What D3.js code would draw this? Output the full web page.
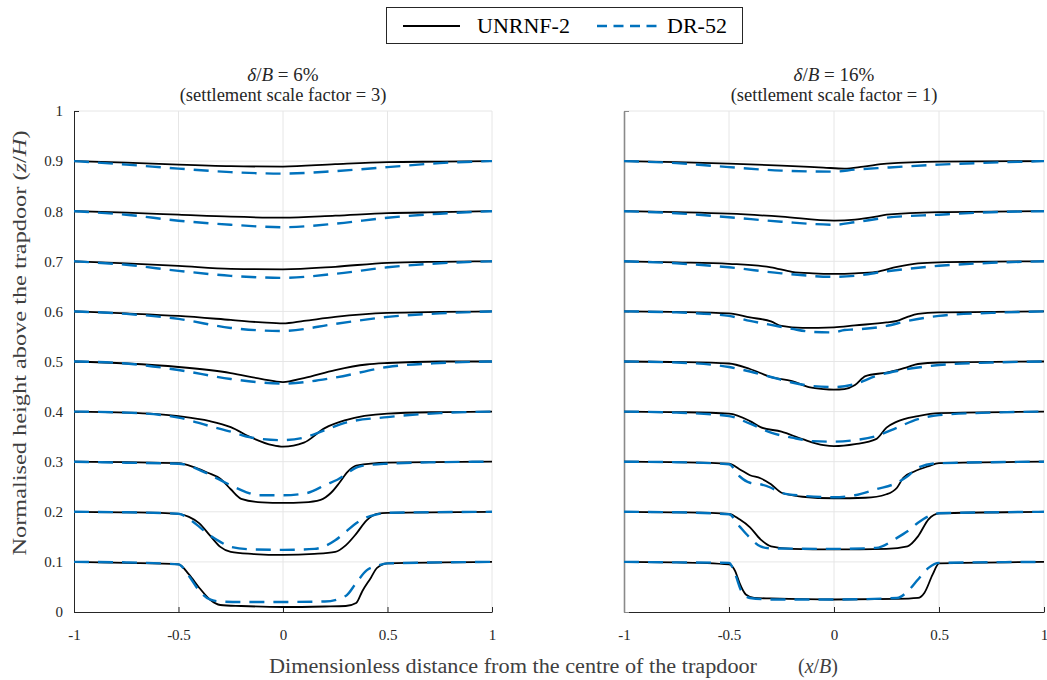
<!DOCTYPE html>
<html>
<head>
<meta charset="utf-8">
<script src="https://cdn.jsdelivr.net/npm/d3@7"></script>
<style>
  html, body { margin: 0; padding: 0; background: #ffffff; }
  svg { display: block; }
  svg text { font-family: "Liberation Serif", "Times New Roman", "DejaVu Serif", serif; fill: #262626; }
</style>
</head>
<body>
<svg id="chart" width="1047" height="680" font-family="Liberation Serif"></svg>
<script>
// ---------------- DATA ----------------
const seriesNames = ["UNRNF-2", "DR-52"];
const levels = [0.1, 0.2, 0.3, 0.4, 0.5, 0.6, 0.7, 0.8, 0.9];
const xTicks = [-1, -0.5, 0, 0.5, 1];
const xTickLabels = ["-1", "-0.5", "0", "0.5", "1"];
const yTicks = [0, 0.1, 0.2, 0.3, 0.4, 0.5, 0.6, 0.7, 0.8, 0.9, 1];
const yTickLabels = ["0", "0.1", "0.2", "0.3", "0.4", "0.5", "0.6", "0.7", "0.8", "0.9", "1"];
const panelTitles = ["6%", "16%"];
const panelScaleFactors = ["3", "1"];

// Each curve: [x/B, plotted settlement (scaled, in z/H units)], one curve per level (0.1 .. 0.9)
const leftUNRNF = [
  [[-1,0],[-0.75,0.002],[-0.5,0.005],[-0.45,0.025],[-0.4,0.052],[-0.35,0.075],[-0.3,0.086],[-0.2,0.088],[0,0.090],[0.2,0.089],[0.3,0.088],[0.35,0.082],[0.38,0.058],[0.42,0.032],[0.45,0.012],[0.5,0.003],[1,0]],
  [[-1,0],[-0.75,0.001],[-0.5,0.004],[-0.45,0.010],[-0.4,0.023],[-0.35,0.047],[-0.3,0.070],[-0.25,0.080],[-0.15,0.084],[0,0.086],[0.15,0.084],[0.25,0.080],[0.3,0.067],[0.35,0.044],[0.4,0.017],[0.45,0.004],[0.5,0.002],[1,0]],
  [[-1,0],[-0.75,0.001],[-0.5,0.003],[-0.42,0.012],[-0.36,0.022],[-0.3,0.034],[-0.25,0.055],[-0.2,0.074],[-0.1,0.081],[0,0.082],[0.1,0.081],[0.18,0.076],[0.23,0.062],[0.27,0.042],[0.31,0.020],[0.35,0.008],[0.5,0.002],[1,0]],
  [[-1,0],[-0.75,0.002],[-0.5,0.009],[-0.35,0.019],[-0.25,0.031],[-0.15,0.052],[-0.05,0.067],[0,0.070],[0.1,0.062],[0.2,0.033],[0.3,0.017],[0.5,0.004],[0.75,0.001],[1,0]],
  [[-1,0],[-0.75,0.004],[-0.5,0.011],[-0.25,0.023],[-0.1,0.035],[0,0.041],[0.1,0.033],[0.25,0.017],[0.4,0.006],[0.5,0.003],[0.75,0],[1,0]],
  [[-1,0],[-0.75,0.004],[-0.5,0.009],[-0.25,0.017],[-0.1,0.022],[0,0.024],[0.1,0.019],[0.25,0.011],[0.5,0.003],[0.75,0.001],[1,0]],
  [[-1,0],[-0.75,0.004],[-0.5,0.009],[-0.25,0.015],[0,0.016],[0.25,0.011],[0.5,0.003],[0.75,0.001],[1,0]],
  [[-1,0],[-0.75,0.003],[-0.5,0.007],[-0.25,0.011],[0,0.013],[0.25,0.009],[0.5,0.004],[0.75,0.002],[1,0]],
  [[-1,0],[-0.75,0.003],[-0.5,0.007],[-0.25,0.010],[0,0.011],[0.25,0.006],[0.5,0.002],[0.75,0.001],[1,0]]
];
const leftDR52 = [
  [[-1,0],[-0.75,0.001],[-0.5,0.005],[-0.45,0.028],[-0.4,0.058],[-0.35,0.075],[-0.3,0.079],[-0.2,0.080],[0,0.080],[0.2,0.079],[0.3,0.068],[0.35,0.042],[0.4,0.017],[0.45,0.008],[0.5,0.003],[1,0]],
  [[-1,0],[-0.75,0.001],[-0.5,0.004],[-0.45,0.014],[-0.4,0.030],[-0.35,0.047],[-0.3,0.060],[-0.25,0.070],[-0.15,0.075],[0,0.076],[0.15,0.074],[0.25,0.057],[0.3,0.040],[0.35,0.023],[0.4,0.011],[0.45,0.005],[0.5,0.002],[1,0]],
  [[-1,0],[-0.75,0.002],[-0.5,0.004],[-0.365,0.023],[-0.27,0.043],[-0.18,0.060],[-0.12,0.067],[0,0.067],[0.11,0.063],[0.21,0.045],[0.26,0.036],[0.37,0.009],[0.5,0.004],[0.75,0.001],[1,0]],
  [[-1,0],[-0.75,0.002],[-0.5,0.012],[-0.35,0.029],[-0.25,0.040],[-0.15,0.052],[0,0.057],[0.1,0.052],[0.2,0.037],[0.3,0.022],[0.5,0.011],[0.75,0.003],[1,0]],
  [[-1,0],[-0.75,0.004],[-0.5,0.017],[-0.25,0.035],[0,0.044],[0.25,0.032],[0.5,0.011],[0.75,0.003],[1,0]],
  [[-1,0],[-0.75,0.005],[-0.5,0.015],[-0.25,0.033],[0,0.039],[0.25,0.025],[0.5,0.011],[0.75,0.004],[1,0]],
  [[-1,0],[-0.75,0.007],[-0.5,0.019],[-0.25,0.029],[0,0.033],[0.25,0.025],[0.5,0.012],[0.75,0.004],[1,0]],
  [[-1,0],[-0.75,0.007],[-0.5,0.019],[-0.25,0.027],[0,0.032],[0.25,0.025],[0.5,0.013],[0.75,0.005],[1,0]],
  [[-1,0],[-0.75,0.007],[-0.5,0.015],[-0.25,0.022],[0,0.025],[0.25,0.020],[0.5,0.012],[0.75,0.004],[1,0]]
];
const rightUNRNF = [
  [[-1,0],[-0.75,0.001],[-0.5,0.005],[-0.47,0.019],[-0.45,0.042],[-0.42,0.065],[-0.38,0.072],[-0.3,0.073],[0,0.075],[0.3,0.074],[0.4,0.072],[0.43,0.062],[0.47,0.025],[0.5,0.003],[1,0]],
  [[-1,0],[-0.75,0.001],[-0.5,0.004],[-0.45,0.015],[-0.4,0.031],[-0.35,0.055],[-0.3,0.069],[-0.2,0.074],[0,0.075],[0.25,0.074],[0.35,0.069],[0.4,0.049],[0.45,0.015],[0.5,0.003],[1,0]],
  [[-1,0],[-0.75,0.001],[-0.5,0.004],[-0.45,0.015],[-0.4,0.027],[-0.35,0.033],[-0.3,0.045],[-0.25,0.062],[-0.15,0.070],[0,0.073],[0.15,0.072],[0.25,0.065],[0.3,0.052],[0.33,0.032],[0.38,0.020],[0.45,0.009],[0.5,0.003],[1,0]],
  [[-1,0],[-0.75,0.001],[-0.5,0.004],[-0.4,0.019],[-0.35,0.031],[-0.25,0.040],[-0.15,0.055],[-0.05,0.067],[0,0.069],[0.1,0.065],[0.2,0.055],[0.25,0.032],[0.3,0.020],[0.4,0.009],[0.5,0.003],[1,0]],
  [[-1,0],[-0.75,0.001],[-0.5,0.004],[-0.4,0.015],[-0.3,0.031],[-0.2,0.039],[-0.12,0.051],[-0.05,0.055],[0,0.056],[0.05,0.055],[0.1,0.047],[0.15,0.029],[0.25,0.022],[0.3,0.017],[0.35,0.011],[0.4,0.005],[0.5,0.002],[1,0]],
  [[-1,0],[-0.75,0.001],[-0.5,0.004],[-0.4,0.012],[-0.3,0.020],[-0.25,0.029],[-0.15,0.033],[0,0.032],[0.1,0.028],[0.25,0.022],[0.3,0.019],[0.35,0.011],[0.4,0.005],[0.5,0.002],[1,0]],
  [[-1,0],[-0.75,0.002],[-0.5,0.005],[-0.3,0.012],[-0.2,0.021],[-0.1,0.024],[0,0.025],[0.1,0.024],[0.2,0.021],[0.3,0.011],[0.4,0.004],[0.5,0.002],[1,0]],
  [[-1,0],[-0.75,0.002],[-0.5,0.005],[-0.25,0.011],[0,0.019],[0.1,0.017],[0.2,0.011],[0.25,0.007],[0.5,0.002],[1,0]],
  [[-1,0],[-0.75,0.002],[-0.5,0.005],[-0.25,0.009],[-0.05,0.013],[0.05,0.015],[0.14,0.011],[0.25,0.005],[0.5,0.001],[1,0]]
];
const rightDR52 = [
  [[-1,0],[-0.75,0.001],[-0.5,0.002],[-0.47,0.025],[-0.44,0.059],[-0.4,0.072],[-0.3,0.075],[0,0.075],[0.3,0.072],[0.35,0.059],[0.4,0.035],[0.45,0.012],[0.5,0.002],[1,0]],
  [[-1,0],[-0.75,0.001],[-0.5,0.005],[-0.45,0.029],[-0.4,0.052],[-0.35,0.069],[-0.3,0.073],[0,0.074],[0.2,0.072],[0.3,0.052],[0.35,0.039],[0.4,0.022],[0.45,0.009],[0.5,0.003],[1,0]],
  [[-1,0],[-0.75,0.001],[-0.5,0.005],[-0.45,0.029],[-0.4,0.042],[-0.35,0.045],[-0.3,0.052],[-0.25,0.062],[-0.15,0.068],[0,0.071],[0.1,0.067],[0.2,0.055],[0.3,0.042],[0.35,0.029],[0.4,0.012],[0.5,0.003],[1,0]],
  [[-1,0],[-0.75,0.002],[-0.5,0.009],[-0.4,0.024],[-0.3,0.042],[-0.2,0.052],[-0.1,0.059],[0,0.060],[0.1,0.057],[0.2,0.049],[0.3,0.032],[0.4,0.015],[0.5,0.007],[0.75,0.002],[1,0]],
  [[-1,0],[-0.75,0.002],[-0.5,0.011],[-0.4,0.020],[-0.3,0.031],[-0.2,0.042],[-0.1,0.049],[0,0.051],[0.1,0.045],[0.2,0.029],[0.3,0.019],[0.4,0.012],[0.5,0.007],[0.75,0.002],[1,0]],
  [[-1,0],[-0.75,0.002],[-0.5,0.009],[-0.4,0.019],[-0.3,0.027],[-0.2,0.035],[-0.1,0.041],[0,0.042],[0.05,0.037],[0.1,0.036],[0.25,0.029],[0.35,0.019],[0.5,0.009],[0.75,0.003],[1,0]],
  [[-1,0],[-0.75,0.004],[-0.5,0.012],[-0.25,0.024],[0,0.031],[0.1,0.029],[0.25,0.020],[0.5,0.009],[0.75,0.003],[1,0]],
  [[-1,0],[-0.75,0.004],[-0.5,0.012],[-0.25,0.021],[0,0.027],[0.1,0.022],[0.25,0.013],[0.5,0.007],[0.75,0.002],[1,0]],
  [[-1,0],[-0.75,0.004],[-0.5,0.012],[-0.25,0.019],[0,0.021],[0.1,0.017],[0.25,0.013],[0.5,0.007],[0.75,0.003],[1,0]]
];

// ---------------- DRAW ----------------
const svg = d3.select("#chart");
svg.append("rect").attr("width", 1047).attr("height", 680).attr("fill", "#fff");

const BLUE = "#0072BD";
const DARK = "#262626";
const GRID = "#e6e6e6";
const SERIF = "Liberation Serif";

const y = d3.scaleLinear().domain([0, 1]).range([612, 111]);

const panels = [
  { x0: 74, x1: 492, unr: leftUNRNF, dr: leftDR52, labels: true, axisColor: DARK, title: panelTitles[0], sf: panelScaleFactors[0] },
  { x0: 624, x1: 1044, unr: rightUNRNF, dr: rightDR52, labels: false, axisColor: "#8a8a8a", title: panelTitles[1], sf: panelScaleFactors[1] }
];

panels.forEach(p => {
  const x = d3.scaleLinear().domain([-1, 1]).range([p.x0, p.x1]);
  const g = svg.append("g");

  // grid
  g.selectAll(".vg").data(xTicks.filter(t => t > -1)).join("line")
    .attr("x1", d => x(d)).attr("x2", d => x(d))
    .attr("y1", y(0)).attr("y2", y(1))
    .attr("stroke", GRID).attr("stroke-width", 1);
  g.selectAll(".hg").data(yTicks.filter(t => t > 0)).join("line")
    .attr("x1", x(-1)).attr("x2", x(1))
    .attr("y1", d => y(d)).attr("y2", d => y(d))
    .attr("stroke", GRID).attr("stroke-width", 1);

  // axes (MATLAB-like: inward ticks)
  const xAxis = d3.axisBottom(x).tickValues(xTicks).tickSizeInner(-5).tickSizeOuter(0)
    .tickFormat((d, i) => xTickLabels[i]);
  const gx = g.append("g").attr("transform", `translate(0,${y(0)})`).call(xAxis)
    .attr("font-family", SERIF);
  gx.select(".domain").attr("stroke", DARK);
  gx.selectAll(".tick line").attr("stroke", DARK);
  gx.selectAll(".tick text").attr("y", 17).attr("font-size", 15).attr("fill", DARK);

  const yAxis = d3.axisLeft(y).tickValues(yTicks).tickSizeInner(-5).tickSizeOuter(0)
    .tickFormat((d, i) => p.labels ? yTickLabels[i] : "");
  const gy = g.append("g").attr("transform", `translate(${x(-1)},0)`).call(yAxis)
    .attr("font-family", SERIF);
  gy.select(".domain").attr("stroke", p.axisColor).attr("stroke-width", p.labels ? 1 : 1.6);
  gy.selectAll(".tick line").attr("stroke", p.axisColor);
  gy.selectAll(".tick text").attr("x", -11).attr("font-size", 15).attr("fill", DARK);

  // curves
  const line = lvl => d3.line()
    .x(d => x(d[0]))
    .y(d => y(lvl - d[1]))
    .curve(d3.curveMonotoneX);

  levels.forEach((lvl, i) => {
    g.append("path").attr("d", line(lvl)(p.unr[i]))
      .attr("fill", "none").attr("stroke", "#000").attr("stroke-width", 1.8);
  });
  levels.forEach((lvl, i) => {
    g.append("path").attr("d", line(lvl)(p.dr[i]))
      .attr("fill", "none").attr("stroke", BLUE).attr("stroke-width", 2.4)
      .attr("stroke-dasharray", "15,9");
  });

  // title
  const cx = x(0);
  const t1 = svg.append("text").attr("x", cx).attr("y", 81).attr("text-anchor", "middle")
    .attr("font-size", 19);
  t1.append("tspan").attr("font-style", "italic").text("δ");
  t1.append("tspan").text("/");
  t1.append("tspan").attr("font-style", "italic").text("B");
  t1.append("tspan").text(" = " + p.title);
  svg.append("text").attr("x", cx).attr("y", 101).attr("text-anchor", "middle")
    .attr("font-size", 18.5)
    .text(`(settlement scale factor = ${p.sf})`);
});

// x label
svg.append("text").attr("x", 269).attr("y", 673)
  .attr("font-size", 20).attr("textLength", 488).attr("lengthAdjust", "spacingAndGlyphs")
  .style("fill", "#404040")
  .text("Dimensionless distance from the centre of the trapdoor");
const xl = svg.append("text").attr("x", 818).attr("y", 673).attr("text-anchor", "middle")
  .attr("font-size", 20).style("fill", "#404040");
xl.append("tspan").text("(");
xl.append("tspan").attr("font-style", "italic").text("x");
xl.append("tspan").text("/");
xl.append("tspan").attr("font-style", "italic").text("B");
xl.append("tspan").text(")");

// y label
const yl = svg.append("text").attr("transform", "translate(26,343) rotate(-90)")
  .attr("text-anchor", "middle").attr("font-size", 19)
  .attr("textLength", 425).attr("lengthAdjust", "spacingAndGlyphs")
  .style("fill", "#404040");
yl.append("tspan").text("Normalised height above the trapdoor (");
yl.append("tspan").attr("font-style", "italic").text("z");
yl.append("tspan").text("/");
yl.append("tspan").attr("font-style", "italic").text("H");
yl.append("tspan").text(")");

// legend
const lg = svg.append("g");
lg.append("rect").attr("x", 386.5).attr("y", 7.5).attr("width", 356).attr("height", 36)
  .attr("fill", "#fff").attr("stroke", DARK).attr("stroke-width", 1);
lg.append("line").attr("x1", 403).attr("x2", 460).attr("y1", 26).attr("y2", 26)
  .attr("stroke", "#000").attr("stroke-width", 2);
lg.append("text").attr("x", 477).attr("y", 33).attr("font-size", 22).style("fill", "#000").text(seriesNames[0]);
lg.append("line").attr("x1", 597).attr("x2", 657).attr("y1", 26).attr("y2", 26)
  .attr("stroke", BLUE).attr("stroke-width", 2.4).attr("stroke-dasharray", "10,6.5");
lg.append("text").attr("x", 667).attr("y", 33).attr("font-size", 22).style("fill", "#000").text(seriesNames[1]);
</script>
</body>
</html>
